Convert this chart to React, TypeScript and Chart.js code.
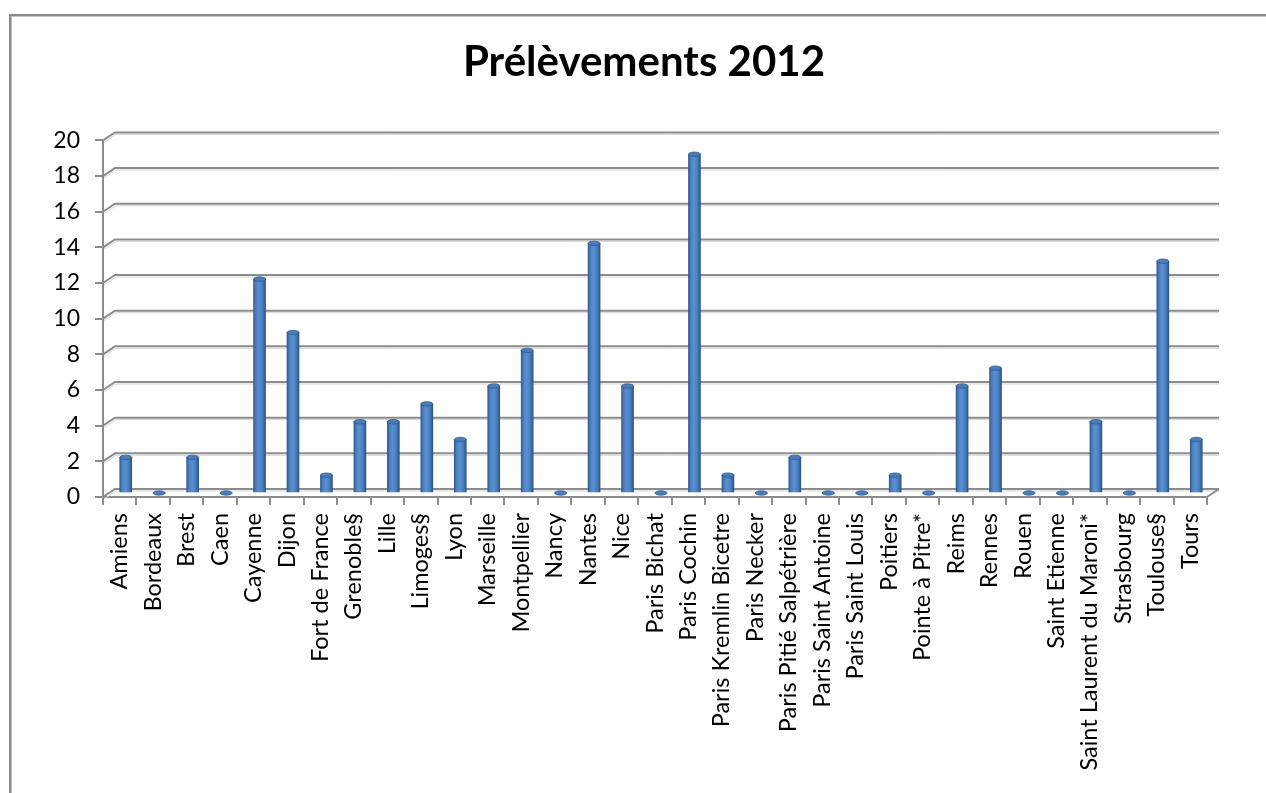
import React, { useEffect, useRef } from 'react';
import { Chart, registerables } from 'chart.js';

Chart.register(...registerables);

const categories: string[] = [
  'Amiens', 'Bordeaux', 'Brest', 'Caen', 'Cayenne', 'Dijon', 'Fort de France',
  'Grenoble§', 'Lille', 'Limoges§', 'Lyon', 'Marseille', 'Montpellier', 'Nancy',
  'Nantes', 'Nice', 'Paris Bichat', 'Paris Cochin', 'Paris Kremlin Bicetre',
  'Paris Necker', 'Paris Pitié Salpétrière', 'Paris Saint Antoine', 'Paris Saint Louis',
  'Poitiers', 'Pointe à Pitre*', 'Reims', 'Rennes', 'Rouen', 'Saint Etienne',
  'Saint Laurent du Maroni*', 'Strasbourg', 'Toulouse§', 'Tours',
];

const prelevements: number[] = [
  2, 0, 2, 0, 12, 9, 1,
  4, 4, 5, 3, 6, 8, 0,
  14, 6, 0, 19, 1,
  0, 2, 0, 0,
  1, 0, 6, 7, 0, 0,
  4, 0, 13, 3,
];

const yMin = 0;
const yMax = 20;
const yStep = 2;
const titleText = 'Prélèvements 2012';

const DX = 12;
const DY = -8;
const GRID = '#8c8c8c';
const GRID_LIGHT = '#d6d6d6';

const framePlugin = {
  id: 'frame',
  beforeDraw(chart: any) {
    const ctx = chart.ctx;
    ctx.save();
    ctx.fillStyle = '#ffffff';
    ctx.fillRect(0, 0, chart.width, chart.height);
    ctx.fillStyle = '#8a8a8a';
    ctx.fillRect(9, 14, chart.width - 9, 2);
    ctx.fillRect(9, 14, 2, chart.height - 14);
    ctx.fillStyle = '#c4c4c4';
    ctx.fillRect(11, 16, chart.width - 11, 1);
    ctx.fillRect(11, 16, 1, chart.height - 16);
    ctx.restore();
  },
};

const depthPlugin = {
  id: 'depth',
  beforeDatasetsDraw(chart: any) {
    const ctx = chart.ctx;
    const { left, right, bottom } = chart.chartArea;
    const ys = chart.scales.y;
    ctx.save();
    for (let v = yMin; v <= yMax; v += yStep) {
      const yf = ys.getPixelForValue(v);
      ctx.strokeStyle = GRID_LIGHT;
      ctx.lineWidth = 1;
      ctx.beginPath();
      ctx.moveTo(left + 1, yf + 2);
      ctx.lineTo(left + DX + 1, yf + DY + 2);
      ctx.lineTo(right + DX, yf + DY + 2);
      ctx.stroke();
      ctx.strokeStyle = GRID;
      ctx.lineWidth = 2;
      ctx.beginPath();
      ctx.moveTo(left, yf);
      ctx.lineTo(left + DX, yf + DY);
      ctx.lineTo(right + DX, yf + DY);
      ctx.stroke();
    }
    ctx.strokeStyle = GRID;
    ctx.lineWidth = 2;
    ctx.beginPath();
    ctx.moveTo(right, bottom);
    ctx.lineTo(right + DX, bottom + DY);
    ctx.stroke();
    ctx.restore();

    ctx.save();
    ctx.translate(DX / 2, DY / 2);
  },
  afterDatasetsDraw(chart: any) {
    const ctx = chart.ctx;
    const meta = chart.getDatasetMeta(0);
    meta.data.forEach((el: any) => {
      const { x, y, width } = el.getProps(['x', 'y', 'width'], true);
      ctx.beginPath();
      ctx.ellipse(x, y, width / 2, 2.2, 0, 0, Math.PI * 2);
      ctx.fillStyle = '#4b7dbb';
      ctx.fill();
      ctx.lineWidth = 0.8;
      ctx.strokeStyle = '#2d5a8e';
      ctx.stroke();
    });
    ctx.restore();
  },
};

export default function App() {
  const canvasRef = useRef<HTMLCanvasElement | null>(null);

  useEffect(() => {
    const canvas = canvasRef.current;
    if (!canvas) return;
    const chart = new Chart(canvas, {
      type: 'bar',
      data: {
        labels: categories,
        datasets: [
          {
            data: prelevements,
            barThickness: 12,
            borderWidth: 0,
            clip: false as any,
            backgroundColor: (c: any) => {
              const ch = c.chart;
              if (!ch.chartArea || c.dataIndex === undefined) return '#4f81bd';
              const x = ch.scales.x.getPixelForValue(c.dataIndex);
              const g = ch.ctx.createLinearGradient(x - 6, 0, x + 6, 0);
              g.addColorStop(0, '#2f5b8f');
              g.addColorStop(0.18, '#4a7ebd');
              g.addColorStop(0.45, '#5b90d2');
              g.addColorStop(0.75, '#4a7dba');
              g.addColorStop(1, '#2c5586');
              return g;
            },
          },
        ],
      },
      options: {
        animation: false,
        responsive: false,
        layout: { padding: { left: 22, right: 0, top: 0, bottom: 0 } },
        plugins: {
          legend: { display: false },
          tooltip: { enabled: false },
          title: {
            display: true,
            text: titleText,
            color: '#000000',
            font: { family: 'Lato', size: 42, weight: 'bold' },
            padding: { top: 37, bottom: 53 },
          },
        },
        scales: {
          x: {
            grid: {
              display: true,
              drawOnChartArea: false,
              drawTicks: true,
              tickLength: 8,
              color: GRID,
              lineWidth: 2,
              offset: true,
            },
            border: { display: true, color: GRID, width: 2 },
            ticks: {
              autoSkip: false,
              maxRotation: 90,
              minRotation: 90,
              padding: 8,
              color: '#000000',
              font: { family: 'Lato', size: 23.5 },
            },
            afterFit: (s: any) => {
              s.height = 296;
            },
          },
          y: {
            min: yMin,
            max: yMax,
            ticks: {
              stepSize: yStep,
              padding: 15,
              color: '#000000',
              font: { family: 'Lato', size: 23 },
            },
            grid: {
              drawOnChartArea: false,
              drawTicks: true,
              tickLength: 8,
              color: GRID,
              lineWidth: 2,
            },
            border: { display: true, color: GRID, width: 2 },
            afterFit: (s: any) => {
              s.width = 81;
            },
          },
          yRightSpace: {
            type: 'linear',
            position: 'right',
            display: true,
            grid: { display: false, drawTicks: false },
            border: { display: false },
            ticks: { display: false },
            afterFit: (s: any) => {
              s.width = 59;
            },
          },
        },
      },
      plugins: [framePlugin, depthPlugin],
    });
    return () => chart.destroy();
  }, []);

  return (
    <canvas
      ref={canvasRef}
      width={1266}
      height={793}
      style={{ position: 'absolute', left: 0, top: 0, width: 1266, height: 793 }}
    />
  );
}
